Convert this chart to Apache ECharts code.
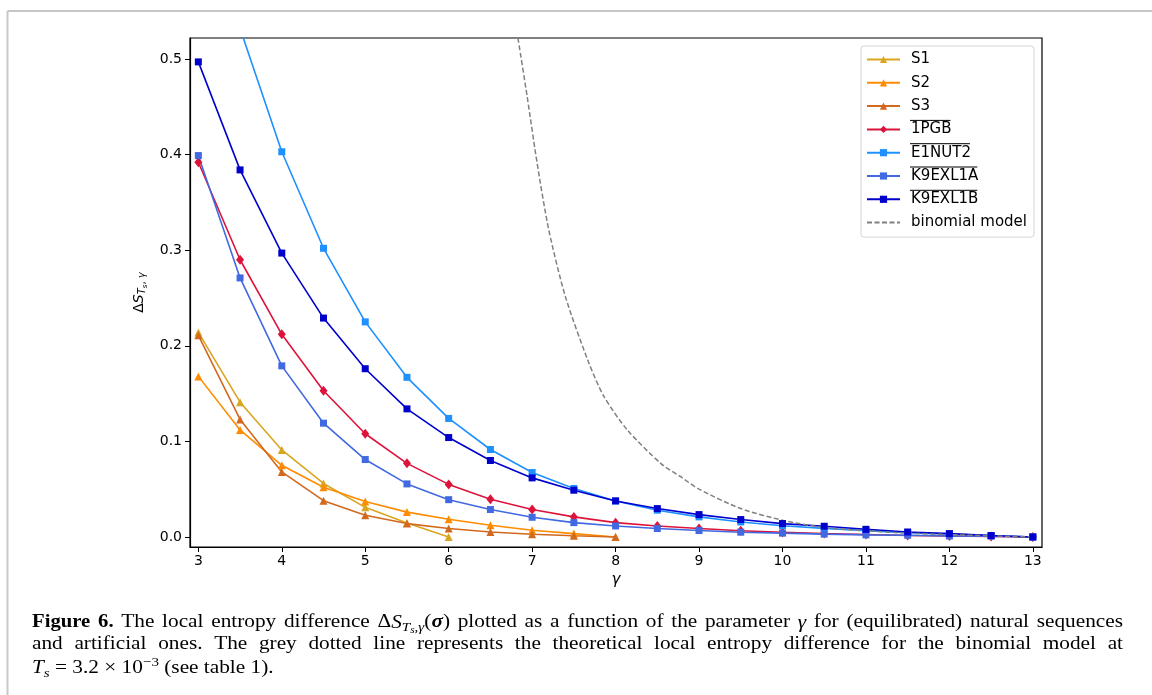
<!DOCTYPE html>
<html>
<head>
<meta charset="utf-8">
<script src="https://cdn.jsdelivr.net/npm/echarts@6/dist/echarts.min.js"></script>
<style>
  html, body { margin: 0; padding: 0; background: #ffffff; }
  #chart { width: 1152px; height: 695px; }
</style>
</head>
<body>
<div id="chart"></div>
<script>
// gamma grid shared by the measured sequences
const gammaValues = [3, 3.5, 4, 4.5, 5, 5.5, 6, 6.5, 7, 7.5, 8, 8.5, 9, 9.5, 10, 10.5, 11, 11.5, 12, 12.5, 13];

// local entropy difference per sequence (artificial S1..S3 stop early)
const s1Values = [0.214, 0.141, 0.091, 0.056, 0.031, 0.0147, 0.0];
const s2Values = [0.168, 0.112, 0.075, 0.052, 0.037, 0.026, 0.0185, 0.0122, 0.007, 0.0035, 0.0];
const s3Values = [0.211, 0.123, 0.068, 0.038, 0.0227, 0.014, 0.0088, 0.0052, 0.0028, 0.0012, 0.0];
const pgbValues = [0.392, 0.290, 0.212, 0.153, 0.108, 0.077, 0.055, 0.0395, 0.0287, 0.021, 0.015, 0.0115, 0.0088, 0.0065, 0.005, 0.0035, 0.0025, 0.0015, 0.001, 0.0005, 0.0];
const e1nut2Values = [0.70, 0.532, 0.403, 0.302, 0.225, 0.167, 0.124, 0.0915, 0.0674, 0.0507, 0.0377, 0.028, 0.021, 0.0157, 0.0118, 0.009, 0.0066, 0.0045, 0.003, 0.0015, 0.0];
const k9aValues = [0.399, 0.271, 0.179, 0.119, 0.081, 0.0555, 0.039, 0.0287, 0.0206, 0.015, 0.0115, 0.0088, 0.0067, 0.005, 0.004, 0.003, 0.0022, 0.0018, 0.0010, 0.0008, 0.0];
const k9bValues = [0.497, 0.384, 0.297, 0.229, 0.176, 0.134, 0.104, 0.080, 0.0618, 0.0489, 0.0377, 0.0297, 0.0234, 0.0182, 0.014, 0.0112, 0.008, 0.0052, 0.0035, 0.0015, 0.0];

// theoretical curve for the binomial model
const binomGamma = [6.83, 6.94, 7.06, 7.2, 7.4, 7.68, 7.86, 8.14, 8.54, 8.78, 9.0, 9.5, 10, 10.5, 11, 11.5, 12, 12.5, 13];
const binomValues = [0.522, 0.461, 0.391, 0.321, 0.251, 0.182, 0.147, 0.112, 0.077, 0.063, 0.050, 0.0297, 0.0175, 0.0098, 0.0065, 0.004, 0.0025, 0.0012, 0.0];

// tick labels
const xTicks = [3, 4, 5, 6, 7, 8, 9, 10, 11, 12, 13];
const yTicks = [0, 0.1, 0.2, 0.3, 0.4, 0.5];

const seriesNames = ['S1', 'S2', 'S3', '1PGB', 'E1NUT2', 'K9EXL1A', 'K9EXL1B', 'binomial model'];
const overlined = ['1PGB', 'E1NUT2', 'K9EXL1A', 'K9EXL1B'];

const pairs = (xs, ys) => ys.map((v, i) => [xs[i], v]);

function lineSeries(name, values, color, symbol, size) {
  return {
    name: name,
    type: 'line',
    data: pairs(gammaValues, values),
    symbol: symbol,
    symbolSize: size,
    showSymbol: true,
    color: color,
    lineStyle: { color: color, width: 1.6 },
    itemStyle: { color: color },
    emphasis: { disabled: true },
    animation: false,
    clip: true
  };
}

const series = [
  lineSeries('S1', s1Values, '#DAA520', 'triangle', 8),
  lineSeries('S2', s2Values, '#FF8C00', 'triangle', 8),
  lineSeries('S3', s3Values, '#D2691E', 'triangle', 8),
  lineSeries('1PGB', pgbValues, '#DC143C', 'diamond', [8, 10]),
  lineSeries('E1NUT2', e1nut2Values, '#1E90FF', 'rect', 7),
  lineSeries('K9EXL1A', k9aValues, '#4169E1', 'rect', 7),
  lineSeries('K9EXL1B', k9bValues, '#0000CD', 'rect', 7),
  {
    name: 'binomial model',
    type: 'line',
    data: pairs(binomGamma, binomValues),
    symbol: 'none',
    smooth: 0.25,
    color: '#808080',
    itemStyle: { color: '#808080' },
    lineStyle: { color: '#808080', width: 1.5, type: [5, 2.5] },
    emphasis: { disabled: true },
    animation: false,
    clip: true
  }
];

// legend geometry (used for the overline marks on the averaged sequences)
const legendLeft = 861, legendTop = 46;
const legendPad = [6, 7, 7, 5];
const itemW = 33, itemH = 9, rowH = 15, itemGap = 8.3, textGap = 6;
const legendFont = '15px "DejaVu Sans"';

const measureCtx = document.createElement('canvas').getContext('2d');

const overlineMarks = seriesNames.map((name, i) => {
  if (overlined.indexOf(name) < 0) return null;
  measureCtx.font = legendFont;
  const x0 = legendLeft + legendPad[3] + itemW + 5 + textGap;
  const w = measureCtx.measureText(name).width;
  const yc = legendTop + legendPad[0] + rowH / 2 + i * (rowH + itemGap);
  return {
    type: 'line',
    z: 100,
    shape: { x1: x0, y1: yc - 9, x2: x0 + w, y2: yc - 9 },
    style: { stroke: '#000', lineWidth: 1 }
  };
}).filter(Boolean);

// caption: rich-text styles, a slightly wide set face and justified first two lines
const serif = '"Liberation Serif", "DejaVu Serif", serif';
const baseSize = 19;
const captionScaleX = 1.12;
const captionStyles = {
  b: { fontSize: 18.5, fontWeight: 'bold' },
  r: { fontSize: baseSize },
  i: { fontSize: baseSize, fontStyle: 'italic' },
  bi: { fontSize: baseSize, fontStyle: 'italic', fontWeight: 'bold' },
  isub: { fontSize: 13.5, fontStyle: 'italic', padding: [10, 0, 0, 0] },
  rsub: { fontSize: 13.5, padding: [10, 0, 0, 0] },
  isubsub: { fontSize: 10, fontStyle: 'italic', padding: [15, 0, 0, 0] },
  sup: { fontSize: 13.5, padding: [0, 0, 12, 0] },
  link: { fontSize: baseSize, color: '#1f77b4' }
};
const captionLines = [
  '{b|Figure 6.}{r| The local entropy difference Δ}{i|S}{isub|T}{isubsub|s}{rsub|,}{isub|γ}{r|(}{bi|σ}{r|) plotted as a function of the parameter }{i|γ}{r| for (equilibrated) natural sequences}',
  '{r|and artificial ones. The grey dotted line represents the theoretical local entropy difference for the binomial model at}',
  '{i|T}{isub|s}{r| = 3.2 × 10}{sup|−3}{r| (see table }{link|1}{r|).}'
];
const captionLeft = 32, captionRight = 1123, captionTop = 610, captionLineH = 22.6;

function fontOf(st) {
  return (st.fontStyle || 'normal') + ' ' + (st.fontWeight || 'normal') + ' ' + st.fontSize + 'px ' + serif;
}

const captionRich = {};
Object.keys(captionStyles).forEach(k => {
  const st = captionStyles[k];
  captionRich[k] = Object.assign({ fontFamily: serif, color: '#000' }, st);
  if (!st.padding) captionRich[k].lineHeight = captionLineH;
});

const captionElements = captionLines.map((line, li) => {
  const parts = [];
  line.replace(/\{(\w+)\|([^}]*)\}/g, (m, st, txt) => {
    txt.split(/( )/).forEach(piece => {
      if (piece === '') return;
      parts.push({ st: piece === ' ' ? 'space' : st, text: piece });
    });
    return m;
  });
  let wordW = 0, nSpace = 0;
  parts.forEach(p => {
    if (p.st === 'space') { nSpace++; return; }
    measureCtx.font = fontOf(captionStyles[p.st]);
    wordW += measureCtx.measureText(p.text).width;
  });
  measureCtx.font = fontOf(captionStyles.r);
  let spaceW = measureCtx.measureText(' ').width;
  const targetW = (captionRight - captionLeft) / captionScaleX;
  if (li < captionLines.length - 1 && nSpace > 0) {
    spaceW = Math.max(spaceW, (targetW - wordW) / nSpace);
  }
  const rich = Object.assign({}, captionRich, {
    space: { fontFamily: serif, fontSize: baseSize, width: spaceW, lineHeight: captionLineH }
  });
  const text = parts.map(p => '{' + p.st + '|' + p.text + '}').join('');
  return {
    type: 'text',
    x: captionLeft,
    y: captionTop + li * captionLineH,
    scaleX: captionScaleX,
    style: {
      text: text, rich: rich, fontFamily: serif, fontSize: baseSize, fill: '#000',
      align: 'left', verticalAlign: 'top'
    }
  };
});

const chart = echarts.init(document.getElementById('chart'), null, { renderer: 'canvas' });

chart.setOption({
  animation: false,
  backgroundColor: '#ffffff',
  grid: {
    left: 190, right: 110, top: 38, bottom: 148,
    show: true, borderColor: '#000', borderWidth: 1.2, backgroundColor: 'transparent'
  },
  xAxis: {
    type: 'value',
    min: 2.9,
    max: 13.11,
    name: 'γ',
    nameLocation: 'middle',
    nameGap: 23,
    nameTextStyle: { fontFamily: 'DejaVu Sans', fontStyle: 'italic', fontSize: 15, color: '#000' },
    axisLine: { show: true, onZero: false, lineStyle: { color: '#000', width: 1.2 } },
    axisTick: { show: true, length: 5, lineStyle: { color: '#000', width: 1 }, customValues: xTicks },
    axisLabel: {
      show: true, margin: 7, customValues: xTicks,
      fontFamily: 'DejaVu Sans', fontSize: 14, color: '#000',
      formatter: v => String(v)
    },
    splitLine: { show: false }
  },
  yAxis: {
    type: 'value',
    min: -0.0105,
    max: 0.522,
    name: '{d|Δ}{s|S}{sub|T}{subsub|s}{subr|,}{sub| γ}',
    nameLocation: 'middle',
    nameGap: 29,
    nameTextStyle: {
      color: '#000',
      rich: {
        d: { fontFamily: 'DejaVu Sans', fontSize: 14, color: '#000' },
        s: { fontFamily: 'DejaVu Sans', fontStyle: 'italic', fontSize: 14, color: '#000' },
        sub: { fontFamily: 'DejaVu Sans', fontStyle: 'italic', fontSize: 10, color: '#000', padding: [7, 0, 0, 0] },
        subr: { fontFamily: 'DejaVu Sans', fontSize: 10, color: '#000', padding: [7, 0, 0, 0] },
        subsub: { fontFamily: 'DejaVu Sans', fontStyle: 'italic', fontSize: 7, color: '#000', padding: [12, 0, 0, 0] }
      }
    },
    axisLine: { show: true, onZero: false, lineStyle: { color: '#000', width: 1.2 } },
    axisTick: { show: true, length: 5, lineStyle: { color: '#000', width: 1 }, customValues: yTicks },
    axisLabel: {
      show: true, margin: 8, customValues: yTicks,
      fontFamily: 'DejaVu Sans', fontSize: 14, color: '#000',
      formatter: v => Number(v).toFixed(1)
    },
    splitLine: { show: false }
  },
  legend: {
    show: true,
    orient: 'vertical',
    left: legendLeft,
    top: legendTop,
    padding: legendPad,
    itemWidth: itemW,
    itemHeight: itemH,
    itemGap: itemGap,
    backgroundColor: 'rgba(255,255,255,0.85)',
    borderColor: '#d4d4d4',
    borderWidth: 1,
    borderRadius: 3,
    selectedMode: false,
    textStyle: { fontFamily: 'DejaVu Sans', fontSize: 15, color: '#000', padding: [0, 0, 0, textGap] },
    data: seriesNames.map(n => n === 'binomial model'
      ? { name: n, itemStyle: { opacity: 0 } }
      : { name: n })
  },
  series: series,
  graphic: [
    // page frame
    { type: 'line', shape: { x1: 7.5, y1: 11, x2: 1152, y2: 11 }, style: { stroke: '#b4b4b4', lineWidth: 1.5 } },
    { type: 'line', shape: { x1: 7.5, y1: 11, x2: 7.5, y2: 695 }, style: { stroke: '#c8c8c8', lineWidth: 2 } }
  ].concat(captionElements, overlineMarks)
});
</script>
</body>
</html>
